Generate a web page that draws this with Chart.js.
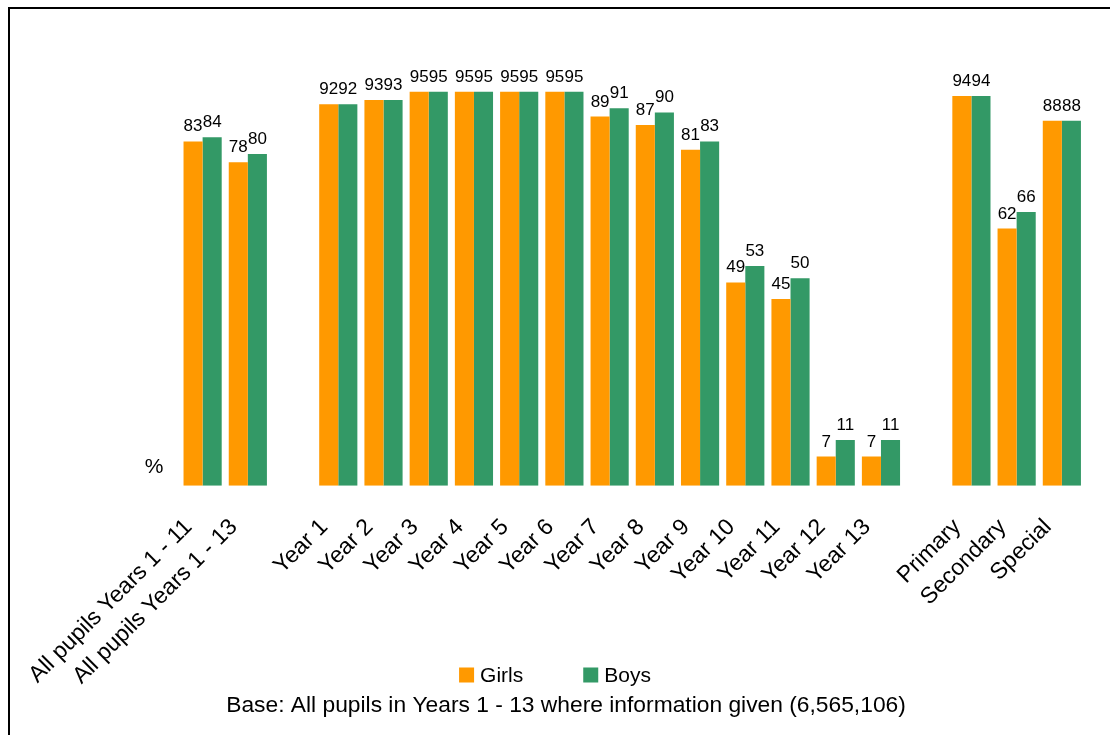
<!DOCTYPE html>
<html>
<head>
<meta charset="utf-8">
<script src="https://cdn.jsdelivr.net/npm/chart.js@4.4.0/dist/chart.umd.min.js"></script>
<style>
html, body { margin: 0; padding: 0; background: #fff; overflow: hidden; }
#wrap { position: relative; width: 1110px; height: 735px; }
#frame { position: absolute; left: 8px; top: 7px; width: 1200px; height: 800px; border-top: 2px solid #000; border-left: 2px solid #000; }
#chart { position: absolute; left: 0; top: 0; }
</style>
</head>
<body>
<div id="wrap">
  <div id="frame"></div>
  <canvas id="chart" width="1110" height="735"></canvas>
</div>
<script>
// カテゴリ（空文字はグループ間の隙間）
var categories = [
  'All pupils Years 1 - 11', 'All pupils Years 1 - 13', '',
  'Year 1', 'Year 2', 'Year 3', 'Year 4', 'Year 5', 'Year 6', 'Year 7',
  'Year 8', 'Year 9', 'Year 10', 'Year 11', 'Year 12', 'Year 13', '',
  'Primary', 'Secondary', 'Special'
];
var girls = [83, 78, null, 92, 93, 95, 95, 95, 95, 89, 87, 81, 49, 45, 7, 7, null, 94, 62, 88];
var boys  = [84, 80, null, 92, 93, 95, 95, 95, 95, 91, 90, 83, 53, 50, 11, 11, null, 94, 66, 88];
var seriesNames = ['Girls', 'Boys'];
var seriesColors = ['#FF9900', '#339966'];
var caption = 'Base: All pupils in Years 1 - 13 where information given (6,565,106)';

var FONT = '"Liberation Sans", Arial, sans-serif';

// バーの上の値、「%」、凡例
var extras = {
  id: 'extras',
  afterDatasetsDraw: function(chart) {
    var ctx = chart.ctx;
    ctx.save();
    ctx.font = '17px ' + FONT;
    ctx.fillStyle = '#000';
    ctx.textAlign = 'center';
    ctx.textBaseline = 'alphabetic';
    chart.data.datasets.forEach(function(ds, i) {
      var meta = chart.getDatasetMeta(i);
      meta.data.forEach(function(bar, j) {
        if (ds.data[j] == null) return;
        ctx.fillText(String(ds.data[j]), bar.x, bar.y - 10);
      });
    });
    ctx.font = '21px ' + FONT;
    ctx.textBaseline = 'middle';
    ctx.fillText('%', chart.chartArea.left - 26, chart.chartArea.bottom - 18);
    ctx.restore();
  },
  afterDraw: function(chart) {
    var ctx = chart.ctx;
    ctx.save();
    ctx.font = '21px ' + FONT;
    ctx.textAlign = 'left';
    ctx.textBaseline = 'middle';
    var box = 15, gap = 6, space = 60, cy = 676;
    var widths = seriesNames.map(function(n) { return ctx.measureText(n).width; });
    var total = 0;
    widths.forEach(function(w, i) { total += box + gap + w + (i > 0 ? space : 0); });
    var x = chart.width / 2 - total / 2;
    seriesNames.forEach(function(n, i) {
      ctx.fillStyle = seriesColors[i];
      ctx.fillRect(x, cy - box / 2 - 1, box, box);
      ctx.fillStyle = '#000';
      ctx.fillText(n, x + box + gap, cy);
      x += box + gap + widths[i] + space;
    });
    ctx.restore();
  }
};

var ctx = document.getElementById('chart').getContext('2d');
var chart = new Chart(ctx, {
  type: 'bar',
  data: {
    labels: categories,
    datasets: [
      { label: seriesNames[0], data: girls, backgroundColor: seriesColors[0], borderWidth: 0 },
      { label: seriesNames[1], data: boys, backgroundColor: seriesColors[1], borderWidth: 0 }
    ]
  },
  options: {
    responsive: false,
    animation: false,
    datasets: { bar: { categoryPercentage: 0.844, barPercentage: 1.0 } },
    layout: { padding: { top: 71, right: 0, bottom: 16, left: 22 } },
    plugins: {
      legend: { display: false },
      title: {
        display: true,
        position: 'bottom',
        text: caption,
        color: '#000',
        font: { family: FONT, size: 22.8, weight: 'normal' },
        padding: { top: 0, bottom: 0 }
      },
      tooltip: { enabled: false }
    },
    scales: {
      x: {
        grid: { display: false, drawTicks: false },
        border: { display: false },
        ticks: {
          autoSkip: false, minRotation: 45, maxRotation: 45,
          padding: 28, labelOffset: -14,
          color: '#000', font: { family: FONT, size: 23 }
        },
        afterFit: function(s) { s.height = 206; }
      },
      y: {
        min: 0, max: 100,
        grid: { display: false, drawTicks: false },
        border: { display: false },
        ticks: { display: false },
        afterFit: function(s) { s.width = 158; }
      },
      yr: {
        position: 'right',
        grid: { display: false, drawTicks: false },
        border: { display: false },
        ticks: { display: false },
        afterFit: function(s) { s.width = 25; }
      }
    }
  },
  plugins: [extras]
});
</script>
</body>
</html>
